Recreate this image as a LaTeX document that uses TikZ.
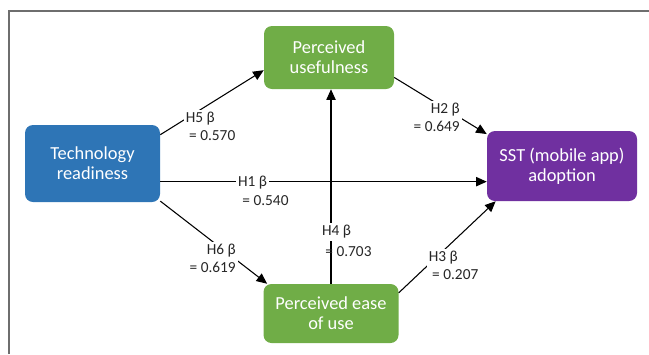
\documentclass[tikz,border=0pt]{standalone}
\usepackage{fontspec}
\setmainfont{Carlito}
\usetikzlibrary{arrows.meta}
\definecolor{trblue}{HTML}{2E75B6}
\definecolor{pgreen}{HTML}{70AD47}
\definecolor{sstpurple}{HTML}{7030A0}
\definecolor{framegray}{HTML}{6E6E6E}
\begin{document}
\begin{tikzpicture}[x=0.75pt,y=-0.75pt,
  construct/.style={rounded corners=6pt,text=white,align=center,
    font=\fontsize{13.8}{15}\selectfont,inner sep=0pt},
  link/.style={draw=black,line width=0.8pt},
  arr/.style={link,-{Triangle[length=8pt,width=7pt]}},
  coef/.style={font=\fontsize{11.5}{13.5}\selectfont,text=black!85,inner sep=1.5pt}]
  \useasboundingbox (0,0) rectangle (649,354);
  \draw[framegray,line width=1.1pt] (9,354) -- (9,11) -- (649,11);
  % constructs
  \node[construct,fill=trblue,minimum width=101.25pt,minimum height=57.75pt]
    (tr) at (92.5,163.5) {Technology\\readiness};
  \node[construct,fill=pgreen,minimum width=97.5pt,minimum height=47.25pt]
    (pu) at (329,57.5) {Perceived\\usefulness};
  \node[construct,fill=pgreen,minimum width=101.25pt,minimum height=44.25pt]
    (peou) at (331,313.5) {Perceived ease\\of use};
  \node[construct,fill=sstpurple,minimum width=112.5pt,minimum height=52.5pt]
    (sst) at (562,166) {SST (mobile app)\\adoption};
  % paths
  \draw[arr] (tr.23.6) -- (pu.191.7);
  \draw[arr] (tr.-15.3) -- (tr.-15.3 -| sst.west);
  \draw[arr] (tr.-29.6) -- (peou.155.8);
  \draw[arr] (peou.north) -- (peou.north |- pu.south);
  \draw[arr] (pu.-17.8) -- (sst.157.3);
  \draw[arr] (peou.17.7) -- (sst.208.25);
  % coefficients
  \node[coef,fill=white,align=left,anchor=west] (h5) at (183.5,126) {H5 β\\\ = 0.570};
  \node[coef,fill=white] (h1) at (252.5,183) {H1 β};
  \node[coef] (h1b) at (265.5,201) {= 0.540};
  \node[coef,fill=white,align=right,anchor=east] (h6) at (238,258.5) {H6 β\\= 0.619};
  \node[coef,fill=white] (h4) at (336.5,232) {H4 β};
  \node[coef] (h4b) at (348.5,252) {= 0.703};
  \node[coef,fill=white,align=right,anchor=east] (h2) at (462,117.5) {H2 β\\= 0.649};
  \node[coef,fill=white,align=left,anchor=west] (h3) at (426.5,265.5) {H3 β\\\ = 0.207};
\end{tikzpicture}
\end{document}
